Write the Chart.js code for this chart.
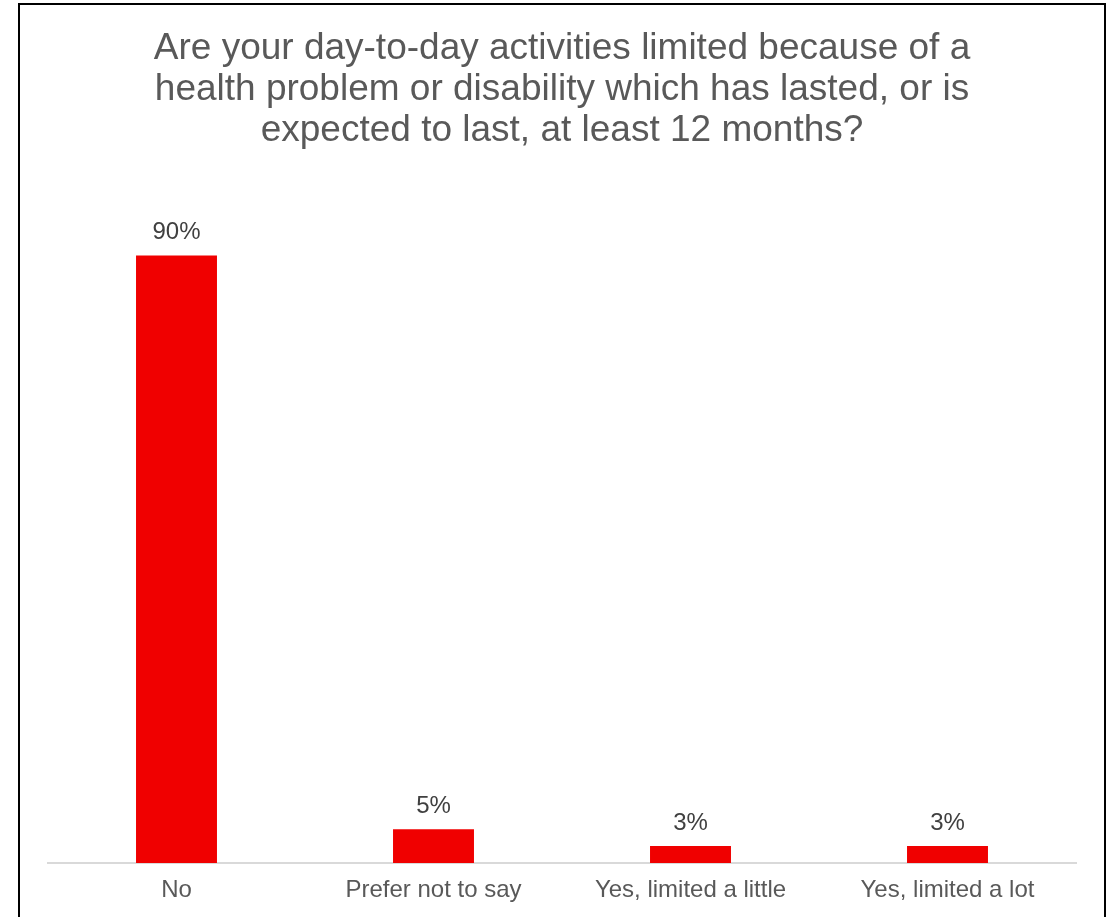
<!DOCTYPE html>
<html lang="en">

<head>
    <meta charset="UTF-8">
    <title>Day-to-day activities limited</title>
    <style>
        html, body { margin: 0; padding: 0; background: #fff; }
        #wrap { position: relative; width: 1117px; height: 917px; overflow: hidden; }
        #frame { position: absolute; left: 18px; top: 3px; width: 1088px; height: 940px; border: 2px solid #000; box-sizing: border-box; pointer-events: none; }
        canvas { position: absolute; left: 0; top: 0; }
    </style>
</head>

<body>
    <div id="wrap">
        <canvas id="grafico1" width="1117" height="917"></canvas>
        <div id="frame"></div>
    </div>

    <script src="https://cdn.jsdelivr.net/npm/chart.js"></script>
    <script>
        const categorias = ['No', 'Prefer not to say', 'Yes, limited a little', 'Yes, limited a lot']
        const valores = [90, 5, 2.5, 2.5]
        const titulo = [
            'Are your day-to-day activities limited because of a',
            'health problem or disability which has lasted, or is',
            'expected to last, at least 12 months?'
        ]

        const fonte = '"Liberation Sans", Arial, sans-serif'

        // labels above the bars (no datalabels plugin offline)
        const rotulos = {
            id: 'rotulos',
            afterDatasetsDraw(chart) {
                const ctx = chart.ctx
                const meta = chart.getDatasetMeta(0)
                ctx.save()
                ctx.font = '24px ' + fonte
                ctx.fillStyle = '#404040'
                ctx.textAlign = 'center'
                ctx.textBaseline = 'alphabetic'
                meta.data.forEach((bar, i) => {
                    ctx.fillText(Math.round(valores[i]) + '%', bar.x, bar.y - 16)
                })
                ctx.restore()
            }
        }

        const ctx = document.getElementById('grafico1')

        new Chart(ctx, {
            type: 'bar',
            data: {
                labels: categorias,
                datasets: [{
                    data: valores,
                    backgroundColor: '#f00000',
                    barPercentage: 0.315,
                    categoryPercentage: 1
                }]
            },
            options: {
                responsive: false,
                animation: false,
                layout: { padding: { left: 48, right: 41, bottom: 0, top: 0 } },
                plugins: {
                    legend: { display: false },
                    tooltip: { enabled: false },
                    title: {
                        display: true,
                        text: titulo,
                        color: '#595959',
                        font: { family: fonte, size: 37, weight: 'normal', lineHeight: 1.108 },
                        padding: { top: 28, bottom: 37 }
                    }
                },
                scales: {
                    x: {
                        grid: { display: false, drawTicks: false },
                        border: { display: true, color: '#d9d9d9', width: 2 },
                        ticks: {
                            color: '#595959',
                            padding: 15,
                            font: { family: fonte, size: 24, lineHeight: 1.0 }
                        }
                    },
                    y: {
                        display: false,
                        min: 0,
                        max: 100
                    }
                }
            },
            plugins: [rotulos]
        })
    </script>
</body>

</html>
